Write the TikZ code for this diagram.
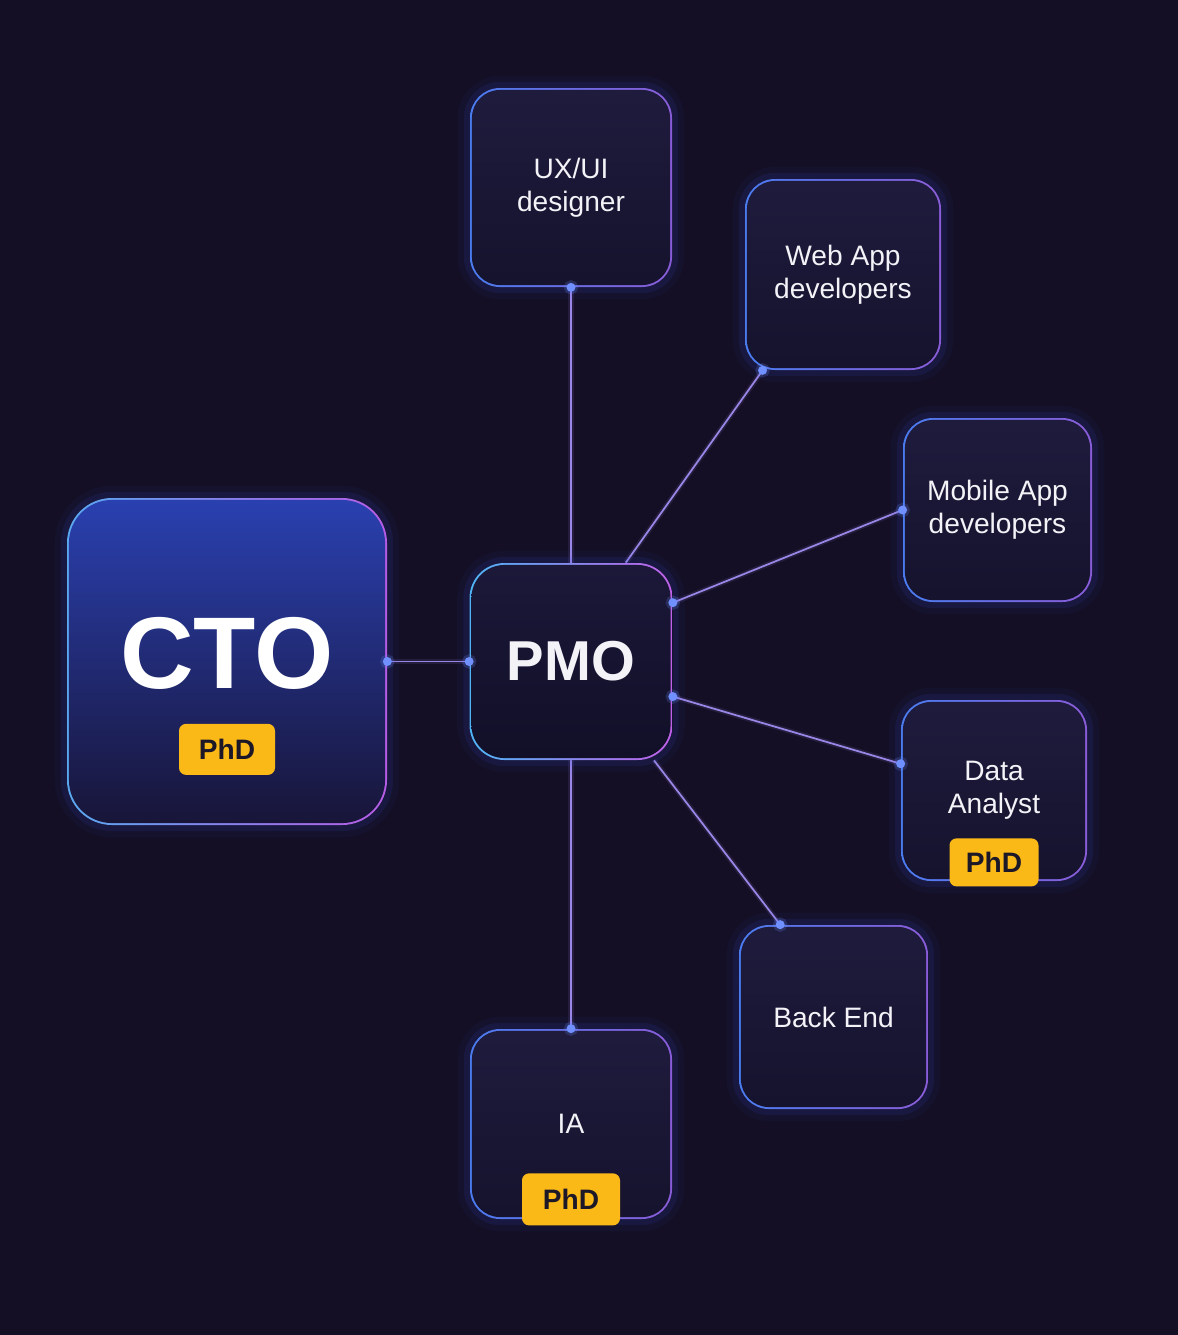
\documentclass[tikz,border=0pt]{standalone}
\usepackage{fontspec}
\setmainfont{Liberation Sans}
\usetikzlibrary{calc,positioning,backgrounds}

\definecolor{bgcol}{HTML}{140F25}
\definecolor{boxtop}{HTML}{1E1B3D}
\definecolor{boxbot}{HTML}{16132E}
\definecolor{edgeblue}{HTML}{4A7CF0}
\definecolor{edgeviolet}{HTML}{8A5CD8}
\definecolor{ctotop}{HTML}{2A40B0}
\definecolor{ctobot}{HTML}{181538}
\definecolor{ctoleft}{HTML}{5AA8F0}
\definecolor{ctoright}{HTML}{B65CE6}
\definecolor{pmotop}{HTML}{1B1839}
\definecolor{pmobot}{HTML}{120F28}
\definecolor{pmoleft}{HTML}{4FB4F5}
\definecolor{pmoright}{HTML}{C060E8}
\definecolor{linkcol}{HTML}{9A86E6}
\definecolor{dotcol}{HTML}{7090FF}
\definecolor{glowcol}{HTML}{3A4FE8}
\definecolor{phdcol}{HTML}{FBB917}
\definecolor{phdtext}{HTML}{1C1828}
\definecolor{labeltext}{HTML}{F2F2F7}

\newcommand\cardfont{\fontsize{16}{19}\selectfont}

\tikzset{
  % radius, fill top, fill bottom, edge left, edge right
  card/.style n args={5}{rounded corners=#1, fill=#3, text=labeltext, align=center,
    font=\cardfont, inner sep=0pt,
    preaction={draw=glowcol, line width=14pt, draw opacity=0.05},
    preaction={draw=glowcol, line width=7pt, draw opacity=0.10},
    path picture={
      \shade[left color=#4, right color=#5] (path picture bounding box.south west)
        rectangle (path picture bounding box.north east);
      \shade[top color=#2, bottom color=#3, rounded corners=#1-1.1pt]
        ([shift={(1.1pt,1.1pt)}]path picture bounding box.south west)
        rectangle ([shift={(-1.1pt,-1.1pt)}]path picture bounding box.north east);
    }},
  role/.style={card={0.6cm}{boxtop}{boxbot}{edgeblue}{edgeviolet}},
  link/.style={draw=linkcol, line width=1pt,
    preaction={draw=linkcol, line width=3pt, draw opacity=0.12}},
  dot/.style={circle, fill=dotcol, inner sep=0pt, minimum size=0.18cm,
    preaction={draw=dotcol, line width=3pt, draw opacity=0.2}},
  phd/.style={rounded corners=0.14cm, fill=phdcol, text=phdtext, font=\bfseries\fontsize{16}{19}\selectfont,
    minimum width=1.92cm, minimum height=1.02cm, inner sep=0pt},
}

\begin{document}
\begin{tikzpicture}
\begin{scope}[on background layer]
\fill [bgcol] (0,0) rectangle (23.56,-26.70);
\end{scope}
\useasboundingbox (0,0) rectangle (23.56,-26.70);

% boxes
\node (cto) at (4.54,-13.23) [card={0.9cm}{ctotop}{ctobot}{ctoleft}{ctoright},
  minimum width=6.40cm, minimum height=6.54cm] {};
\node (pmo) at (11.42,-13.23) [card={0.7cm}{pmotop}{pmobot}{pmoleft}{pmoright},
  minimum width=4.06cm, minimum height=3.94cm, font=\bfseries\fontsize{32}{36}\selectfont] {PMO};
\node (ux) at (11.42,-3.75) [role, minimum width=4.04cm, minimum height=3.98cm] {UX/UI\\designer};
\node (web) at (16.86,-5.49) [role, minimum width=3.92cm, minimum height=3.82cm] {Web App\\developers};
\node (mobile) at (19.95,-10.20) [role, minimum width=3.78cm, minimum height=3.68cm] {Mobile App\\developers};
\node (data) at (19.88,-15.81) [role, minimum width=3.72cm, minimum height=3.62cm] {Data\\Analyst};
\node (back) at (16.67,-20.34) [role, minimum width=3.78cm, minimum height=3.68cm] {Back End};
\node (ia) at (11.42,-22.48) [role, minimum width=4.04cm, minimum height=3.80cm] {IA};

\node (ctolabel) at ([yshift=0.16cm]cto.center) [text=white, font=\bfseries\fontsize{58}{62}\selectfont] {CTO};

% connectors
\begin{scope}[on background layer]
\foreach \s/\t in {cto.east/pmo.west, pmo.north/ux.south, pmo.61/web.230,
                   pmo.30/mobile.west, pmo.-19/data.164, pmo.-50/back.120,
                   pmo.south/ia.north}
  \draw [link] (\s) -- (\t);
\end{scope}

\foreach \a [count=\i] in {cto.east, pmo.west, ux.south, web.230, mobile.west,
                           pmo.30, pmo.-19, data.164, back.120, ia.north}
  \node (dot\i) at (\a) [dot] {};

% badges
\node (ctophd) at ([yshift=1.52cm]cto.south) [phd] {PhD};
\node (dataphd) at ([yshift=0.38cm]data.south) [phd, minimum width=1.78cm, minimum height=0.96cm] {PhD};
\node (iaphd) at ([yshift=0.40cm]ia.south) [phd, minimum width=1.96cm, minimum height=1.04cm] {PhD};

\end{tikzpicture}
\end{document}
